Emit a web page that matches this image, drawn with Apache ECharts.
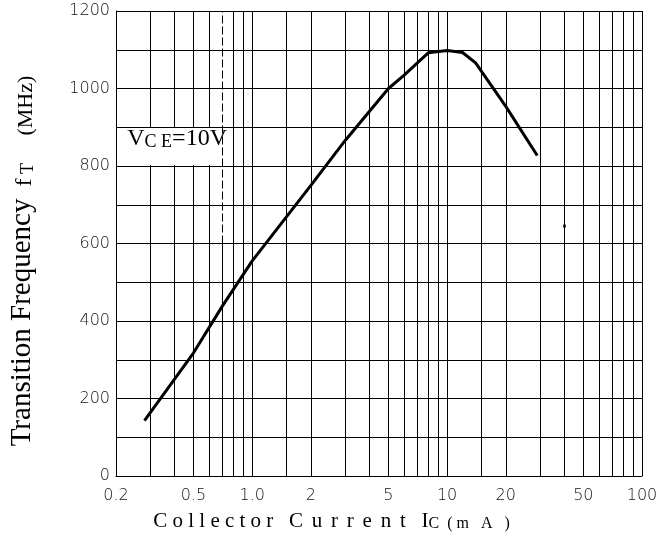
<!DOCTYPE html>
<html>
<head>
<meta charset="utf-8">
<title>Transition Frequency vs Collector Current</title>
<script src="https://cdn.jsdelivr.net/npm/echarts@6/dist/echarts.min.js"></script>
<style>
    html, body { margin: 0; padding: 0; background: #fff; }
    #chart { width: 664px; height: 544px; }
</style>
</head>
<body>
<div id="chart"></div>
<script type="text/javascript">
    // curve: Ic (mA) -> fT (MHz)
    var currentMA = [0.28, 0.5, 0.7, 1, 2, 3, 5, 6, 8, 10, 12, 14, 20, 29];
    var freqMHz = [143, 318, 437, 555, 750, 866, 1000, 1034, 1092, 1098, 1093, 1066, 954, 827];

    // log grid lines and the labelled ones
    var gridX = [0.2, 0.3, 0.4, 0.5, 0.6, 0.8, 0.9, 1, 1.5, 2, 3, 4, 5, 6, 7, 8, 9, 10,
        15, 20, 30, 40, 50, 60, 70, 80, 90, 100];
    var labelX = [0.2, 0.5, 1, 2, 5, 10, 20, 50, 100];
    // the 0.7 mA line is dashed in its upper half
    var dashedLineX = 0.7;
    var dashedFrom = 600;
    // stray dot on the scan
    var strayDot = [[40, 645]];

    var serif = '"Liberation Serif", "Times New Roman", serif';
    var gridColor = '#000';
    var gap = ' \u2006';  // spacing used in the word "Current"

    var myChart = echarts.init(document.getElementById('chart'));

    var option = {
        backgroundColor: '#fff',
        animation: false,
        grid: {left: 116, right: 22, top: 11, bottom: 68, containLabel: false, outerBoundsMode: 'none'},
        xAxis: {
            type: 'log',
            logBase: 10,
            min: 0.2,
            max: 100,
            name: '{a|C o l l e c t o r   ' + ['C', 'u', 'r', 'r', 'e', 'n', 't'].join(gap) +
                '   I}{b|C  ( m   A   )}',
            nameLocation: 'middle',
            nameGap: 32,
            nameTextStyle: {
                padding: [0, 95, 0, 0],
                rich: {
                    a: {fontFamily: serif, fontSize: 21, color: '#000', lineHeight: 24, verticalAlign: 'bottom'},
                    b: {fontFamily: serif, fontSize: 16, color: '#000', lineHeight: 24, verticalAlign: 'bottom'}
                }
            },
            axisLine: {show: true, lineStyle: {color: gridColor, width: 1}},
            axisTick: {show: false, customValues: gridX},
            minorTick: {show: false},
            splitLine: {show: true, lineStyle: {color: gridColor, width: 1}},
            axisLabel: {
                customValues: labelX,
                margin: 12,
                fontFamily: '"DejaVu Sans", sans-serif',
                fontSize: 16,
                fontWeight: 200,
                color: '#111',
                formatter: function (v) {
                    if (Math.abs(v - 1) < 1e-9) return '1.0';
                    return String(+v.toPrecision(3));
                }
            }
        },
        yAxis: {
            type: 'value',
            min: 0,
            max: 1200,
            interval: 100,
            name: '{a|Transition Frequency}{b|  f}{c| T}{d|     (MHz)}',
            nameLocation: 'middle',
            nameGap: 79,
            nameTextStyle: {
                padding: [0, 35, 0, 0],
                rich: {
                    a: {fontFamily: serif, fontSize: 29, color: '#000', lineHeight: 32, verticalAlign: 'bottom'},
                    b: {fontFamily: serif, fontSize: 24, color: '#000', lineHeight: 32, verticalAlign: 'bottom'},
                    c: {fontFamily: serif, fontSize: 18, color: '#000', lineHeight: 32, verticalAlign: 'bottom'},
                    d: {fontFamily: serif, fontSize: 22, color: '#000', lineHeight: 32, verticalAlign: 'bottom'}
                }
            },
            axisLine: {show: true, lineStyle: {color: gridColor, width: 1}},
            axisTick: {show: false},
            splitLine: {show: true, lineStyle: {color: gridColor, width: 1}},
            axisLabel: {
                margin: 6,
                fontFamily: '"DejaVu Sans", sans-serif',
                fontSize: 16,
                fontWeight: 200,
                color: '#111',
                formatter: function (v) {
                    return v % 200 === 0 ? String(v) : '';
                }
            }
        },
        series: [
            {
                // dashed/solid 0.7 line and the stray dot
                type: 'scatter',
                z: 2,
                silent: true,
                symbol: 'rect',
                symbolSize: 3,
                itemStyle: {color: '#000'},
                data: strayDot,
                markLine: {
                    silent: true,
                    symbol: ['none', 'none'],
                    label: {show: false},
                    lineStyle: {color: gridColor, width: 1, type: 'solid'},
                    data: [
                        [{coord: [dashedLineX, 0]}, {coord: [dashedLineX, dashedFrom]}],
                        [{coord: [dashedLineX, dashedFrom], lineStyle: {type: [8, 3], color: gridColor, width: 1}},
                            {coord: [dashedLineX, 1200]}]
                    ]
                }
            },
            {
                type: 'line',
                z: 3,
                silent: true,
                symbol: 'none',
                lineStyle: {color: '#000', width: 3},
                data: currentMA.map(function (x, i) {
                    return [x, freqMHz[i]];
                }),
                markArea: {
                    silent: true,
                    itemStyle: {color: '#fff', opacity: 1},
                    label: {
                        show: true,
                        position: [10, -3],
                        verticalAlign: 'top',
                        formatter: '{a|V}{b|C E}{a|=10V}',
                        rich: {
                            a: {fontFamily: serif, fontSize: 24, color: '#000', lineHeight: 26, verticalAlign: 'bottom'},
                            b: {fontFamily: serif, fontSize: 18, color: '#000', lineHeight: 26, verticalAlign: 'bottom'}
                        }
                    },
                    data: [
                        [{coord: [0.203, 802]}, {coord: [0.77, 898]}]
                    ]
                }
            }
        ]
    };

    myChart.setOption(option);
</script>
</body>
</html>
